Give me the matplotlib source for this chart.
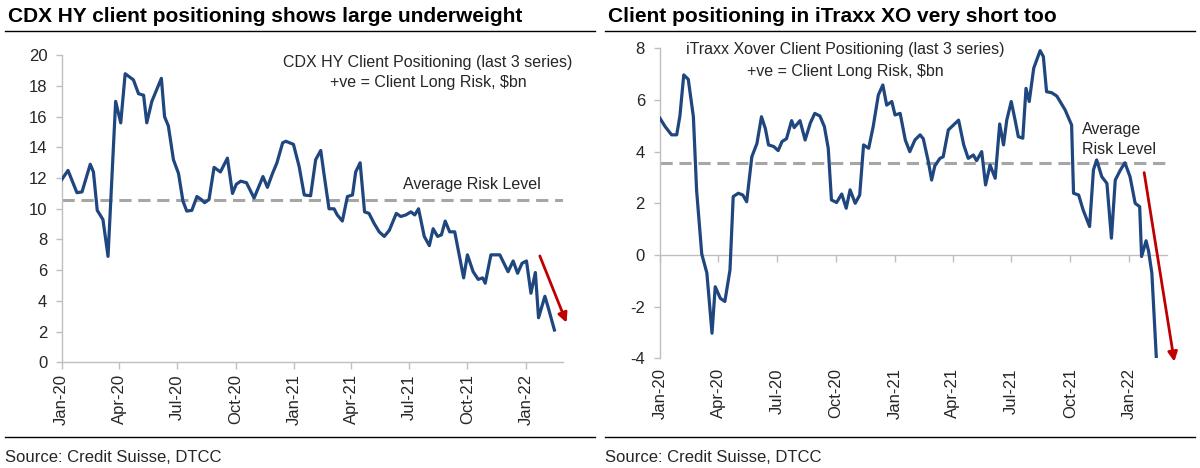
import matplotlib
matplotlib.use("Agg")
import matplotlib.pyplot as plt
import matplotlib.dates as mdates
from matplotlib.lines import Line2D
import pandas as pd

plt.rcParams['font.family'] = ['Liberation Sans', 'DejaVu Sans']
plt.rcParams['axes.unicode_minus'] = False

START = pd.Timestamp('2020-01-01')

# ---- Left chart: CDX HY client positioning ($bn) ----
cdx_days = [0, 10, 24, 32, 45, 50, 56, 65, 73, 85, 93, 100, 113, 121, 129, 134, 142, 157, 162, 168,
            176, 184, 191, 197, 205, 213, 220, 225, 232, 240, 250, 261, 269, 275, 282, 291, 303, 309, 317, 324,
            332, 339, 348, 353, 365, 374, 382, 392, 400, 408, 413, 421, 429, 434, 442, 450, 458, 463, 470, 477,
            484, 492, 500, 508, 516, 527, 534, 542, 550, 556, 562, 571, 579, 585, 592, 598, 604, 611, 619, 633,
            639, 648, 656, 663, 667, 676, 690, 703, 711, 718, 725, 732, 739, 746, 751, 761, 766, 776]
cdx_values = [11.9, 12.5, 11.05, 11.1, 12.9, 12.4, 9.9, 9.3, 6.9, 17.0, 15.6, 18.8, 18.4, 17.5, 17.4, 15.6, 17.0, 18.5, 16.0, 15.4,
              13.2, 12.3, 10.5, 9.85, 9.9, 10.8, 10.6, 10.4, 10.6, 12.7, 12.4, 13.3, 11.0, 11.6, 11.8, 11.7, 10.7, 11.3, 12.1, 11.4,
              12.3, 13.0, 14.3, 14.4, 14.2, 12.75, 10.9, 10.85, 13.2, 13.8, 12.3, 10.0, 10.0, 9.6, 9.2, 10.8, 10.9, 12.4, 13.0, 9.8,
              9.7, 9.05, 8.5, 8.2, 8.6, 9.7, 9.5, 9.6, 9.8, 9.6, 10.0, 8.2, 7.6, 8.7, 8.2, 8.3, 9.2, 8.5, 8.5, 5.5,
              7.0, 5.9, 5.4, 5.5, 5.15, 7.0, 7.0, 5.9, 6.6, 5.8, 6.45, 6.6, 4.5, 5.85, 2.9, 4.3, 3.6, 2.1]
cdx_average = 10.6
cdx_arrow_days = [753, 795]
cdx_arrow_values = [6.93, 2.58]

# ---- Right chart: iTraxx Xover client positioning ($bn) ----
xo_days = [0, 8, 18, 26, 31, 37, 44, 52, 57, 65, 73, 81, 86, 94, 101, 109, 114, 122, 129, 135,
           143, 151, 158, 164, 169, 177, 184, 190, 197, 205, 209, 218, 226, 234, 241, 249, 256, 262, 267, 275,
           283, 290, 296, 304, 311, 317, 325, 332, 340, 347, 353, 361, 366, 374, 382, 389, 397, 405, 410, 418,
           423, 428, 436, 441, 449, 465, 473, 480, 488, 493, 501, 507, 514, 522, 529, 535, 540, 547, 553, 558,
           565, 570, 575, 582, 592, 597, 602, 610, 618, 631, 641, 644, 652, 659, 669, 675, 680, 688, 696, 703,
           709, 717, 724, 732, 740, 747, 750, 757, 761, 766, 773]
xo_values = [5.29, 4.97, 4.65, 4.65, 5.38, 6.97, 6.8, 5.35, 2.5, 0.04, -0.7, -3.03, -1.23, -1.68, -1.8, -0.58, 2.26, 2.39, 2.32, 2.06,
             3.8, 4.32, 5.35, 4.9, 4.26, 4.2, 4.04, 4.39, 4.5, 5.2, 4.93, 5.2, 4.45, 5.1, 5.48, 5.38, 4.97, 4.13, 2.13, 2.03,
             2.36, 1.81, 2.52, 2.0, 2.32, 4.26, 4.13, 4.97, 6.19, 6.58, 5.8, 5.94, 5.42, 5.48, 4.45, 4.0, 4.45, 4.65, 4.5, 3.6,
             2.9, 3.45, 3.74, 3.8, 4.84, 5.22, 4.26, 3.74, 3.87, 3.65, 4.0, 2.71, 3.48, 2.97, 5.07, 4.26, 5.22, 5.94, 5.22, 4.58,
             4.52, 6.45, 5.94, 7.23, 7.91, 7.68, 6.32, 6.28, 6.15, 5.61, 5.03, 2.39, 2.32, 1.74, 1.1, 3.29, 3.68, 3.03, 2.77, 0.65,
             2.9, 3.29, 3.57, 3.03, 2.0, 1.87, -0.06, 0.55, 0.13, -0.71, -4.0]
xo_average = 3.55
xo_arrow_days = [754, 801]
xo_arrow_values = [3.19, -4.13]

tick_dates = ['2020-01-01', '2020-04-01', '2020-07-01', '2020-10-01', '2021-01-01',
              '2021-04-01', '2021-07-01', '2021-10-01', '2022-01-01']
tick_labels = ['Jan-20', 'Apr-20', 'Jul-20', 'Oct-20', 'Jan-21', 'Apr-21', 'Jul-21', 'Oct-21', 'Jan-22']
x_end = '2022-02-28'

titles = ['CDX HY client positioning shows large underweight',
          'Client positioning in iTraxx XO very short too']
source = 'Source: Credit Suisse, DTCC'

LINE = '#1f467f'
DASH = '#a6a6a6'
RED = '#c00000'
AXC = '#bfbfbf'
TXT = '#262626'
TICK_FS = 12
NOTE_FS = 11.5


def to_dates(days):
    return START + pd.to_timedelta(days, unit='D')


fig = plt.figure(figsize=(12, 4.68), dpi=100)

axL = fig.add_axes([0.0514, 0.2259, 0.4175, 0.6559])
axR = fig.add_axes([0.55, 0.2344, 0.4222, 0.6624])

tick_pos = mdates.date2num(pd.to_datetime(tick_dates))
xlim = (mdates.date2num(pd.Timestamp(tick_dates[0])), mdates.date2num(pd.Timestamp(x_end)))


def style(ax, ypad):
    for s in ['top', 'right']:
        ax.spines[s].set_visible(False)
    for s in ['left', 'bottom']:
        ax.spines[s].set_color(AXC)
        ax.spines[s].set_linewidth(1.0)
    ax.tick_params(axis='y', colors=AXC, labelcolor=TXT, labelsize=TICK_FS, length=4.3, width=1, pad=ypad)
    ax.tick_params(axis='x', colors=AXC, labelcolor=TXT, labelsize=TICK_FS, length=5, width=1)
    ax.set_xlim(*xlim)
    ax.set_xticks(tick_pos)


# Left
style(axL, 6)
axL.plot(mdates.date2num(to_dates(cdx_days)), cdx_values, color=LINE, lw=2.3, solid_joinstyle='round', zorder=3)
axL.axhline(cdx_average, color=DASH, lw=2.2, dashes=(4, 2.2), zorder=2)
axL.set_ylim(0, 20)
axL.set_yticks(range(0, 21, 2))
axL.set_xticklabels(tick_labels, rotation=90)
axL.annotate('', xy=(mdates.date2num(to_dates([cdx_arrow_days[1]])[0]), cdx_arrow_values[1]),
             xytext=(mdates.date2num(to_dates([cdx_arrow_days[0]])[0]), cdx_arrow_values[0]),
             arrowprops=dict(arrowstyle='-|>', color=RED, lw=2.0, mutation_scale=14, shrinkA=0, shrinkB=0),
             annotation_clip=False)
axL.text(0.731, 0.978, 'CDX HY Client Positioning (last 3 series)', transform=axL.transAxes,
         ha='center', va='center', fontsize=NOTE_FS, color=TXT)
axL.text(0.731, 0.910, '+ve = Client Long Risk, $bn', transform=axL.transAxes,
         ha='center', va='center', fontsize=NOTE_FS, color=TXT)
axL.text(0.819, 0.578, 'Average Risk Level', transform=axL.transAxes,
         ha='center', va='center', fontsize=NOTE_FS, color=TXT)

# Right
style(axR, 6.5)
axR.plot(mdates.date2num(to_dates(xo_days)), xo_values, color=LINE, lw=2.3, solid_joinstyle='round', zorder=3)
axR.axhline(xo_average, color=DASH, lw=2.2, dashes=(4, 2.2), zorder=2)
axR.set_ylim(-4, 8)
axR.set_yticks(range(-4, 9, 2))
axR.spines['bottom'].set_position(('data', 0))
axR.tick_params(axis='x', labelbottom=False)
sec = axR.secondary_xaxis('bottom')
sec.spines['bottom'].set_visible(False)
sec.tick_params(axis='x', length=0, labelsize=TICK_FS, labelcolor=TXT, pad=7)
sec.set_xticks(tick_pos, labels=tick_labels, rotation=90)
axR.annotate('', xy=(mdates.date2num(to_dates([xo_arrow_days[1]])[0]), xo_arrow_values[1]),
             xytext=(mdates.date2num(to_dates([xo_arrow_days[0]])[0]), xo_arrow_values[0]),
             arrowprops=dict(arrowstyle='-|>', color=RED, lw=2.0, mutation_scale=14, shrinkA=0, shrinkB=0),
             annotation_clip=False)
axR.text(0.366, 0.997, 'iTraxx Xover Client Positioning (last 3 series)', transform=axR.transAxes,
         ha='center', va='center', fontsize=NOTE_FS, color=TXT)
axR.text(0.366, 0.9245, '+ve = Client Long Risk, $bn', transform=axR.transAxes,
         ha='center', va='center', fontsize=NOTE_FS, color=TXT)
axR.text(0.832, 0.739, 'Average', transform=axR.transAxes, ha='left', va='center', fontsize=NOTE_FS, color=TXT)
axR.text(0.832, 0.672, 'Risk Level', transform=axR.transAxes, ha='left', va='center', fontsize=NOTE_FS, color=TXT)

# Titles, rules, sources
W, H = 1200, 468
for x0, x1, title in [(5, 595, titles[0]), (605, 1195, titles[1])]:
    fig.text((x0 + 3) / W, 1 - 17 / H, title, ha='left', va='center', fontsize=15, fontweight='bold', color='black')
    fig.add_artist(Line2D([x0 / W, x1 / W], [1 - 31 / H, 1 - 31 / H], color='black', lw=1.0))
    fig.add_artist(Line2D([x0 / W, x1 / W], [1 - 437 / H, 1 - 437 / H], color='black', lw=1.0))
    fig.text(x0 / W, 1 - 457 / H, source, ha='left', va='center', fontsize=12, color=TXT)

fig.savefig('out.png', dpi=100, facecolor='white')
